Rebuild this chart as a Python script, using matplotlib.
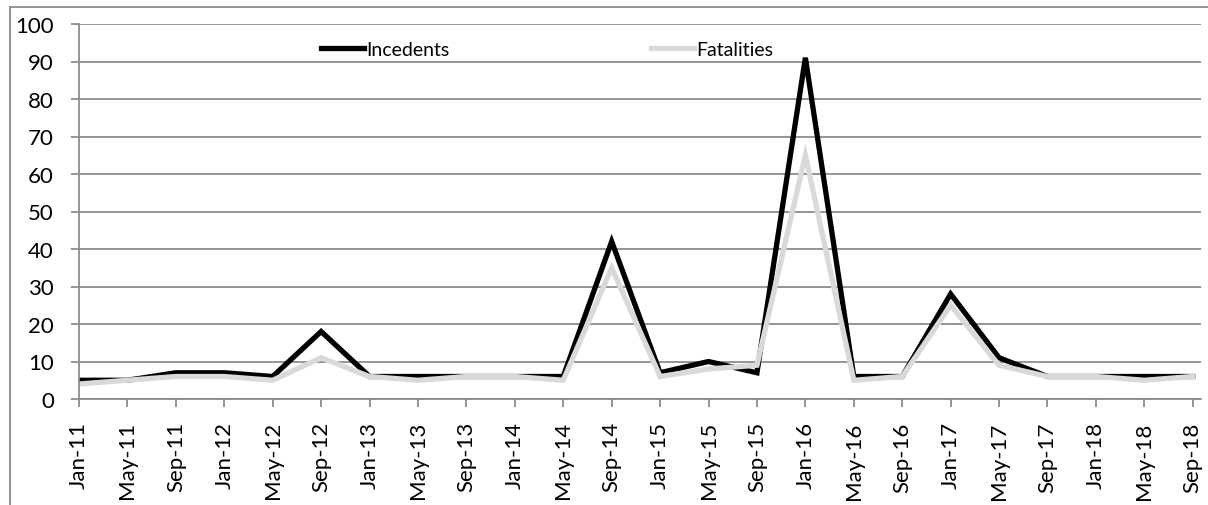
import matplotlib
matplotlib.use("Agg")
import matplotlib.pyplot as plt
from matplotlib.lines import Line2D

# data
months = ["Jan-11", "May-11", "Sep-11", "Jan-12", "May-12", "Sep-12", "Jan-13", "May-13",
          "Sep-13", "Jan-14", "May-14", "Sep-14", "Jan-15", "May-15", "Sep-15", "Jan-16",
          "May-16", "Sep-16", "Jan-17", "May-17", "Sep-17", "Jan-18", "May-18", "Sep-18"]
incidents = [5, 5, 7, 7, 6, 18, 6, 6, 6, 6, 6, 42, 7, 10, 7, 91, 6, 6, 28, 11, 6, 6, 6, 6]
fatalities = [4, 5, 6, 6, 5, 11, 6, 5, 6, 6, 5, 35, 6, 8, 9, 65, 5, 6, 25, 9, 6, 6, 5, 6]

plt.rcParams['font.family'] = ['Lato', 'DejaVu Sans']

W, H = 1208, 506
fig = plt.figure(figsize=(W / 100, H / 100), dpi=100)
ax = fig.add_axes([79 / W, 1 - 400 / H, (1201 - 79) / W, (400 - 25) / H])

x = list(range(len(months)))
ax.plot(x, incidents, color='black', lw=3.8, label='Incedents', solid_joinstyle='miter')
ax.plot(x, fatalities, color='#d9d9d9', lw=3.8, label='Fatalities', solid_joinstyle='miter')

ax.set_ylim(0, 100)
ax.set_xlim(0, len(months) - 1 + 0.17)
ax.set_yticks(range(0, 101, 10))
ax.set_xticks(x)
ax.set_xticklabels(months, rotation=90)

ax.grid(axis='y', color='#8c8c8c', lw=1.3)
ax.set_axisbelow(True)
for s in ['top', 'right']:
    ax.spines[s].set_visible(False)
for s in ['left', 'bottom']:
    ax.spines[s].set_color('#8c8c8c')
    ax.spines[s].set_linewidth(1.3)
ax.tick_params(axis='both', colors='#8c8c8c', labelcolor='black', labelsize=16,
               length=6, width=1.3)
ax.tick_params(axis='y', pad=12)
ax.tick_params(axis='x', pad=10)

ax.legend(loc='center', bbox_to_anchor=(547 / W, 1 - 50 / H), bbox_transform=fig.transFigure,
          ncol=2, frameon=False, fontsize=14, handlelength=2.2, handletextpad=0.1,
          columnspacing=10.4)

# outer chart border (only left and top visible)
fig.add_artist(Line2D([10 / W, 10 / W], [0, 1 - 8 / H], color='#8c8c8c', lw=1.3))
fig.add_artist(Line2D([10 / W, 1], [1 - 8 / H, 1 - 8 / H], color='#8c8c8c', lw=1.3))

fig.savefig('out.png', dpi=100)
